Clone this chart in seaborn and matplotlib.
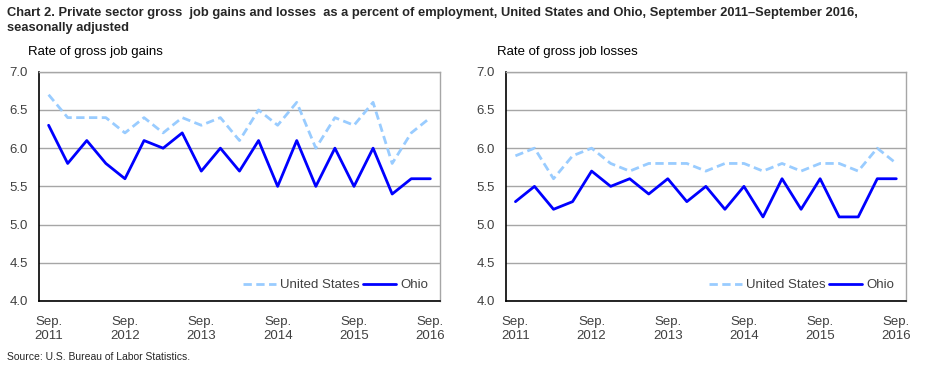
# Gross job gains and losses, United States vs Ohio, Sep 2011 - Sep 2016

import pandas as pd
import numpy as np
import matplotlib
matplotlib.use("Agg")
import matplotlib.pyplot as plt
import seaborn as sns

# --- Data (quarterly, Sep. 2011 to Sep. 2016) ---
quarters = list(range(21))
tick_labels = ["Sep.\n2011", "Sep.\n2012", "Sep.\n2013", "Sep.\n2014", "Sep.\n2015", "Sep.\n2016"]

us_gains = [6.7, 6.4, 6.4, 6.4, 6.2, 6.4, 6.2, 6.4, 6.3, 6.4, 6.1,
            6.5, 6.3, 6.6, 6.0, 6.4, 6.3, 6.6, 5.8, 6.2, 6.4]
ohio_gains = [6.3, 5.8, 6.1, 5.8, 5.6, 6.1, 6.0, 6.2, 5.7, 6.0, 5.7,
              6.1, 5.5, 6.1, 5.5, 6.0, 5.5, 6.0, 5.4, 5.6, 5.6]
us_losses = [5.9, 6.0, 5.6, 5.9, 6.0, 5.8, 5.7, 5.8, 5.8, 5.8, 5.7,
             5.8, 5.8, 5.7, 5.8, 5.7, 5.8, 5.8, 5.7, 6.0, 5.8]
ohio_losses = [5.3, 5.5, 5.2, 5.3, 5.7, 5.5, 5.6, 5.4, 5.6, 5.3, 5.5,
               5.2, 5.5, 5.1, 5.6, 5.2, 5.6, 5.1, 5.1, 5.6, 5.6]

series_names = ["United States", "Ohio"]
palette = {"United States": "#99CCFF", "Ohio": "#0000FF"}
dashes = {"United States": (3, 1.6), "Ohio": ""}


def to_long(us, oh):
    return pd.concat([
        pd.DataFrame({"q": quarters, "rate": us, "area": "United States"}),
        pd.DataFrame({"q": quarters, "rate": oh, "area": "Ohio"}),
    ])


sns.set_theme(style="white")
plt.rcParams["font.family"] = ["Liberation Sans", "DejaVu Sans"]

fig = plt.figure(figsize=(9.3, 3.72), dpi=100)
ax1 = fig.add_axes([0.042, 0.191, 0.431, 0.616])
ax2 = fig.add_axes([0.544, 0.191, 0.430, 0.616])

panels = [
    (ax1, to_long(us_gains, ohio_gains), "Rate of gross job gains", 0.030),
    (ax2, to_long(us_losses, ohio_losses), "Rate of gross job losses", 0.534),
]

for ax, df, subtitle, sx in panels:
    sns.lineplot(data=df, x="q", y="rate", hue="area", style="area",
                 hue_order=series_names, style_order=series_names,
                 palette=palette, dashes=dashes, linewidth=2, ax=ax)
    ax.set_xlim(-0.5, 20.5)
    ax.set_ylim(4.0, 7.0)
    ax.set_yticks(np.arange(4.0, 7.01, 0.5))
    ax.set_yticklabels([f"{v:.1f}" for v in np.arange(4.0, 7.01, 0.5)])
    ax.yaxis.grid(True, color="#A6A6A6", linewidth=1)
    ax.set_axisbelow(True)
    ax.set_xticks(np.arange(-0.5, 20.6, 1.0))
    ax.set_xticklabels([])
    ax.set_xticks([0, 4, 8, 12, 16, 20], minor=True)
    ax.set_xticklabels(tick_labels, minor=True)
    ax.tick_params(axis="x", which="major", length=5, width=1, color="black", direction="out")
    ax.tick_params(axis="x", which="minor", length=0, pad=11, labelsize=9.5, labelcolor="#404040")
    ax.tick_params(axis="y", length=0, labelsize=9.5, labelcolor="#404040", pad=8)
    ax.set_xlabel("")
    ax.set_ylabel("")
    for side in ["left", "bottom"]:
        ax.spines[side].set_color("black")
        ax.spines[side].set_linewidth(1.2)
    for side in ["top", "right"]:
        ax.spines[side].set_color("#A6A6A6")
        ax.spines[side].set_linewidth(1)
    handles, labels = ax.get_legend_handles_labels()
    ax.legend(handles, labels, loc="lower right", ncol=2, frameon=False,
              fontsize=9.5, handlelength=2.5, columnspacing=0.3, handletextpad=0.3,
              bbox_to_anchor=(1.0, -0.01), labelcolor="#404040")
    fig.text(sx, 0.86, subtitle, fontsize=9.5, color="black", va="center")

fig.text(0.008, 0.965,
         "Chart 2. Private sector gross  job gains and losses  as a percent of employment, "
         "United States and Ohio, September 2011\u2013September 2016,",
         fontsize=9.3, fontweight="bold", va="center")
fig.text(0.008, 0.924, "seasonally adjusted", fontsize=9.3, fontweight="bold", va="center")
fig.text(0.008, 0.04, "Source: U.S. Bureau of Labor Statistics.", fontsize=7.5, va="center")

fig.savefig("out.png", dpi=100)
